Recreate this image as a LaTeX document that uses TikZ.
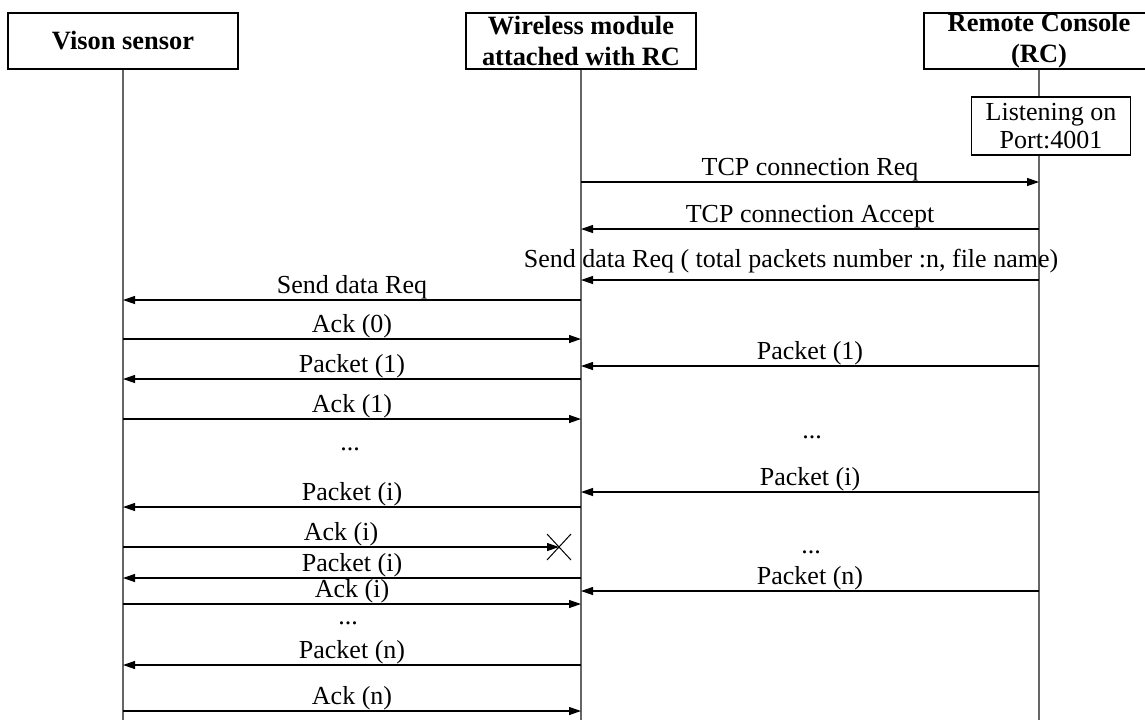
\documentclass[tikz,border=0pt]{standalone}
\usepackage{fontspec}
\setmainfont{Liberation Serif}
\usetikzlibrary{arrows.meta}

\begin{document}
\begin{tikzpicture}[x=0.5pt,y=-0.5pt,
  font=\fontsize{13}{14}\selectfont,
  hdr/.style={draw,align=center,minimum width=115pt,minimum height=28pt,inner sep=0pt,line width=0.6pt,font=\fontsize{13.2}{15.5}\selectfont\bfseries},
  lstbox/.style={draw,fill=white,align=center,minimum width=79.5pt,minimum height=29pt,inner sep=0pt,line width=0.6pt,font=\fontsize{13}{14}\selectfont},
  life/.style={black!60,line width=0.6pt},
  msg/.style={-{Triangle[length=6pt,width=4pt]},line width=0.6pt},
  lbl/.style={midway,above,inner sep=0pt},
  cross/.style={line width=0.5pt}]
\useasboundingbox (0,0) rectangle (1145,720);

%Headers
\node[hdr] (vs) at (123,41) {Vison sensor};
\node[hdr] (wm) at (581,41) {Wireless module\\attached with RC};
\node[hdr] (rc) at (1039,41) {Remote Console\\(RC)};
\node[lstbox] (lst) at (1051,126) {Listening on\\Port:4001};

%Lifelines
\draw[life] (vs.south) -- (vs.south |- 0,720);
\draw[life] (wm.south) -- (wm.south |- 0,720);
\draw[life] (rc.south) -- (rc.south |- lst.north);
\draw[life] (rc.south |- lst.south) -- (rc.south |- 0,720);

%Connection setup
\draw[msg] (wm |- 0,182) -- (rc |- 0,182) node[lbl] (l1) {TCP connection Req};
\draw[msg] (rc |- 0,229) -- (wm |- 0,229) node[lbl] (l2) {TCP connection Accept};
\draw[msg] (rc |- 0,280) -- (wm |- 0,280) node[lbl,xshift=-9.5pt,yshift=3pt] (l3) {Send data Req ( total packets number :n, file name)};
\draw[msg] (wm |- 0,300) -- (vs |- 0,300) node[lbl] (l4) {Send data Req};
\draw[msg] (vs |- 0,339) -- (wm |- 0,339) node[lbl] (l5) {Ack (0)};

%Packet 1
\draw[msg] (rc |- 0,366) -- (wm |- 0,366) node[lbl] (l6) {Packet (1)};
\draw[msg] (wm |- 0,379) -- (vs |- 0,379) node[lbl] (l7) {Packet (1)};
\draw[msg] (vs |- 0,419) -- (wm |- 0,419) node[lbl] (l8) {Ack (1)};
\node (dotsL1) at (350,449) {...};
\node (dotsR1) at (812,437) {...};

%Packet i
\draw[msg] (rc |- 0,492) -- (wm |- 0,492) node[lbl] (l9) {Packet (i)};
\draw[msg] (wm |- 0,507) -- (vs |- 0,507) node[lbl] (l10) {Packet (i)};
\coordinate (lost) at (559,547);
\draw[msg] (vs |- lost) -- (lost) node[lbl] (l11) {Ack (i)};
\draw[cross] (lost) ++(-12,-13) -- ++(24,26) (lost) ++(-12,13) -- ++(24,-26);
\draw[msg] (wm |- 0,578) -- (vs |- 0,578) node[lbl] (l12) {Packet (i)};
\node (dotsR2) at (811,552) {...};
\draw[msg] (rc |- 0,591) -- (wm |- 0,591) node[lbl] (l13) {Packet (n)};
\draw[msg] (vs |- 0,604) -- (wm |- 0,604) node[lbl] (l14) {Ack (i)};

%Packet n
\node (dotsL2) at (348,623) {...};
\draw[msg] (wm |- 0,665) -- (vs |- 0,665) node[lbl] (l15) {Packet (n)};
\draw[msg] (vs |- 0,711) -- (wm |- 0,711) node[lbl] (l16) {Ack (n)};

\end{tikzpicture}
\end{document}
